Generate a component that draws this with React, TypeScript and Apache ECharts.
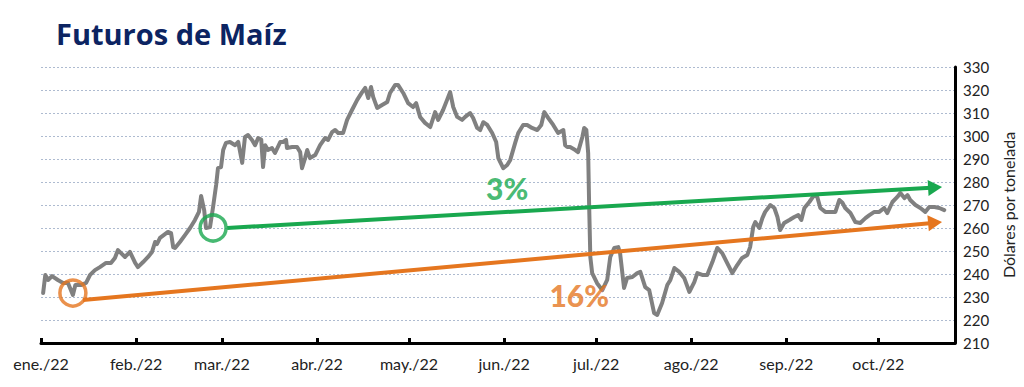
import React, { useEffect, useRef } from "react";
import * as echarts from "echarts";

// Day offsets from 1 Jan 2022 and price (USD per tonne)
const days = [
  0.7, 1.4, 2.3, 3.6, 5.5, 7.2, 8.8, 10.4, 11.2, 13.0, 14.7, 16.0, 17.6, 19.2, 21.2, 22.8, 24.1, 25.1, 26.1, 27.4,
  29.0, 30.7, 31.6, 33.3, 34.9, 36.2, 37.2, 37.8, 38.8, 40.1, 41.4, 42.4, 43.1, 43.7, 45.3, 47.0, 48.6, 50.2, 51.5, 52.2,
  53.2, 53.8, 55.1, 56.1, 57.1, 57.7, 58.7, 59.4, 60.3, 61.6, 63.3, 64.3, 65.6, 66.5, 67.5, 68.8, 69.8, 70.8, 71.8, 72.4,
  73.1, 74.0, 75.3, 76.3, 78.0, 78.9, 79.9, 80.2, 81.9, 83.5, 84.5, 85.1, 86.1, 86.8, 87.7, 89.4, 91.0, 92.6, 93.6, 94.9,
  95.9, 96.9, 98.5, 99.8, 101.4, 103.1, 104.7, 105.7, 106.7, 107.6, 108.3, 109.6, 111.2, 112.9, 113.8, 115.5, 116.4, 118.1, 119.7, 121.3,
  122.3, 123.6, 125.2, 126.9, 128.5, 129.5, 131.1, 132.4, 133.4, 134.4, 135.7, 137.3, 138.3, 139.9, 140.9, 142.2, 143.2, 144.2, 145.5, 147.1,
  148.4, 149.1, 150.7, 152.0, 153.0, 154.6, 155.6, 157.2, 158.5, 160.1, 161.8, 163.1, 164.1, 165.4, 167.0, 168.6, 170.3, 170.9, 171.6, 172.5,
  174.2, 175.1, 176.5, 177.1, 177.8, 178.4, 178.7, 179.1, 179.7, 181.3, 183.0, 184.6, 185.6, 186.9, 188.2, 188.8, 190.1, 191.1, 192.8, 194.4,
  195.4, 197.0, 198.3, 199.9, 200.9, 202.5, 204.2, 205.2, 206.5, 208.1, 209.7, 211.4, 213.0, 214.0, 215.6, 217.2, 218.9, 220.5, 222.1, 223.7,
  225.4, 227.0, 228.6, 230.3, 231.2, 232.2, 232.9, 234.2, 235.2, 236.1, 237.8, 239.1, 240.1, 241.0, 242.3, 244.0, 245.6, 246.9, 247.9, 248.9,
  250.5, 252.1, 253.1, 254.1, 255.7, 257.3, 259.0, 260.3, 261.3, 262.2, 263.9, 265.5, 267.1, 268.8, 270.1, 271.7, 273.3, 274.9, 275.9, 277.6,
  279.2, 280.2, 281.5, 282.5, 283.4, 285.1, 286.7, 288.3, 289.6, 291.3, 292.9, 294.5,
];
const prices = [
  231.7, 239.6, 237.4, 239.1, 237.4, 236.1, 236.1, 230.9, 235.2, 235.2, 236.1, 239.6, 241.7, 243.0, 244.8, 244.8, 247.0, 250.4, 249.1, 247.4,
  249.6, 244.8, 243.0, 245.2, 247.4, 249.6, 253.9, 253.0, 255.7, 257.0, 258.3, 257.8, 251.7, 251.3, 253.9, 257.0, 260.0, 263.5, 267.0, 273.9,
  267.8, 260.0, 260.4, 269.1, 278.7, 286.0, 286.5, 293.9, 297.0, 297.4, 296.0, 297.4, 288.3, 299.6, 300.4, 298.3, 296.0, 299.1, 298.5, 286.5,
  296.0, 293.9, 294.8, 292.6, 297.4, 297.4, 298.3, 294.8, 295.2, 295.2, 293.0, 286.0, 290.4, 293.9, 290.4, 291.7, 296.0, 299.1, 298.3, 301.7,
  302.6, 301.3, 301.3, 307.0, 311.3, 315.7, 319.1, 320.9, 316.5, 321.3, 317.0, 312.2, 313.5, 314.8, 318.7, 322.2, 322.2, 318.7, 314.3, 312.6,
  314.3, 308.3, 305.7, 303.9, 310.4, 307.0, 311.3, 315.7, 319.1, 312.6, 308.3, 307.0, 308.3, 310.0, 307.8, 303.5, 302.6, 306.0, 304.8, 301.3,
  297.4, 290.4, 286.0, 287.4, 289.6, 297.0, 301.3, 304.8, 304.8, 303.5, 302.6, 304.8, 310.4, 307.8, 304.8, 301.3, 302.6, 296.0, 295.2, 295.2,
  293.9, 293.0, 299.6, 303.5, 302.6, 292.6, 270.9, 247.4, 240.4, 236.0, 233.0, 237.4, 247.4, 251.3, 251.7, 249.1, 233.9, 238.3, 238.7, 240.4,
  240.9, 234.3, 233.0, 223.0, 222.2, 227.4, 235.2, 237.4, 242.6, 240.9, 238.3, 232.2, 236.5, 240.4, 239.6, 239.6, 245.2, 251.3, 249.1, 244.8,
  240.4, 243.9, 247.0, 248.3, 251.7, 260.4, 262.6, 260.0, 264.3, 267.0, 270.0, 268.7, 264.8, 259.1, 262.2, 263.5, 264.8, 265.6, 263.5, 268.7,
  271.3, 274.3, 273.5, 268.7, 267.0, 267.0, 267.0, 272.2, 271.0, 268.7, 266.5, 262.6, 262.2, 264.3, 265.6, 267.0, 267.0, 268.7, 266.5, 271.3,
  273.5, 275.2, 273.0, 274.3, 272.2, 270.0, 268.7, 267.0, 269.1, 269.1, 268.7, 267.8,
];

// X-axis month ticks (day offsets) and their labels
const monthDays = [0, 31, 59, 90, 120, 151, 181, 212, 243, 273];
const monthLabels = ["ene./22", "feb./22", "mar./22", "abr./22", "may./22", "jun./22", "jul./22", "ago./22", "sep./22", "oct./22"];
const xMax = 298;

// Y-axis
const yMin = 210;
const yMax = 330;
const yStep = 10;

// Trend arrows: [startDay, startValue, endDay, endValue]
const greenArrow = [60.7, 260.0, 291.5, 277.6];
const orangeArrow = [13.7, 228.7, 291.5, 262.3];
// Highlight circles: [day, value]
const greenCircle = [56.1, 260.0];
const orangeCircle = [10.4, 231.7];
// Percentage labels: [day, value, text]
const greenLabel: [number, number, string] = [152.0, 277.6, "3%"];
const orangeLabel: [number, number, string] = [175.5, 230.9, "16%"];

const GREEN = "#19a84f";
const ORANGE = "#e5761f";
const FONT = "Lato, 'Open Sans', sans-serif";

export default function App() {
  const ref = useRef<HTMLDivElement>(null);
  useEffect(() => {
    if (!ref.current) return;
    const chart = echarts.init(ref.current, null, { renderer: "svg" });
    const lineData = days.map((d, i) => [d, prices[i]]);
    const arrowLine = (a: number[], color: string) => ({
      type: "line",
      data: [],
      silent: true,
      z: 5,
      markLine: {
        silent: true,
        symbol: ["none", "triangle"],
        symbolSize: [16, 14],
        label: { show: false },
        lineStyle: { color, width: 4, type: "solid", opacity: 1 },
        itemStyle: { color },
        data: [[{ coord: [a[0], a[1]] }, { coord: [a[2], a[3]] }]],
      },
    });
    const circle = (c: number[], color: string) => ({
      type: "scatter",
      silent: true,
      z: 6,
      symbol: "circle",
      symbolSize: 26,
      itemStyle: { color: "rgba(0,0,0,0)", borderColor: color, borderWidth: 3.5 },
      data: [c],
    });
    const label = (l: [number, number, string], color: string) => ({
      type: "scatter",
      silent: true,
      z: 7,
      symbolSize: 1,
      itemStyle: { color: "rgba(0,0,0,0)" },
      label: {
        show: true,
        position: "inside",
        formatter: l[2],
        color,
        fontFamily: FONT,
        fontWeight: 900,
        fontSize: 30,
      },
      data: [[l[0], l[1]]],
    });
    chart.setOption({
      animation: false,
      backgroundColor: "#ffffff",
      title: {
        text: "Futuros de Maíz",
        left: 51,
        top: 14,
        textStyle: { color: "#0c2462", fontFamily: "'Open Sans', sans-serif", fontWeight: "bold", fontSize: 29 },
      },
      grid: { left: 41, right: 68, top: 67, bottom: 44 },
      xAxis: {
        type: "value",
        min: 0,
        max: xMax,
        axisLine: { show: true, onZero: false, lineStyle: { color: "#000", width: 3 } },
        axisTick: { show: true, inside: true, length: 5, lineStyle: { color: "#000", width: 3 }, customValues: monthDays },
        axisLabel: {
          customValues: monthDays,
          formatter: (v: number) => monthLabels[monthDays.indexOf(Math.round(v))] ?? "",
          color: "#222",
          fontFamily: FONT,
          fontSize: 16,
          margin: 12,
          showMinLabel: true,
          showMaxLabel: true,
        },
        splitLine: { show: false },
      },
      yAxis: {
        type: "value",
        position: "right",
        min: yMin,
        max: yMax,
        interval: yStep,
        name: "Dólares por tonelada",
        nameLocation: "middle",
        nameRotate: 90,
        nameGap: 36,
        nameTextStyle: { color: "#222", fontFamily: FONT, fontSize: 16 },
        axisLine: { show: true, onZero: false, lineStyle: { color: "#000", width: 3 } },
        axisTick: { show: false },
        axisLabel: { color: "#222", fontFamily: FONT, fontSize: 15, margin: 8 },
        splitLine: { show: true, lineStyle: { color: "#aebbd0", width: 1, type: [2, 2] } },
      },
      series: [
        {
          type: "line",
          data: lineData,
          showSymbol: false,
          silent: true,
          z: 3,
          lineStyle: { color: "#808080", width: 4, join: "round", cap: "round" },
        },
        arrowLine(greenArrow, GREEN),
        arrowLine(orangeArrow, ORANGE),
        circle(greenCircle, GREEN),
        circle(orangeCircle, ORANGE),
        label(greenLabel, GREEN),
        label(orangeLabel, ORANGE),
      ],
    });
    return () => chart.dispose();
  }, []);
  return <div ref={ref} style={{ width: 1024, height: 387, position: "fixed", left: 0, top: 0 }} />;
}
